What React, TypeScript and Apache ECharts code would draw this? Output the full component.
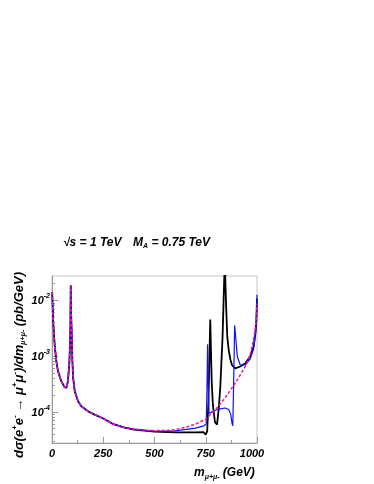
import React, { useEffect, useRef } from "react";
import * as echarts from "echarts";

// Shared low-mass part (all curves coincide), GeV and pb/GeV
const lowMass = [1, 5, 13, 21, 29, 45, 62, 70, 78, 85, 88, 89.8, 91.2, 93, 95.5, 99.5, 103, 111, 127, 143, 176, 208, 250, 300, 350];
const lowXsec = [1.4e-2, 4.8e-3, 1.58e-3, 8.1e-4, 5.4e-4, 3.55e-4, 2.75e-4, 2.7e-4, 3.55e-4, 8.1e-4, 1.78e-3, 3.55e-3, 1.86e-2, 6.3e-3, 3.16e-3, 8.1e-4, 4.1e-4, 2.35e-4, 1.55e-4, 1.26e-4, 1.02e-4, 8.9e-5, 7.6e-5, 6.0e-5, 5.25e-5];

// Standard Model (magenta dashed)
const smHighMass = [400, 450, 500, 550, 600, 650, 700, 750, 800, 850, 900, 943, 967, 983, 992, 996, 1000];
const smHighXsec = [4.9e-5, 4.7e-5, 4.6e-5, 4.6e-5, 4.8e-5, 5.25e-5, 6.0e-5, 7.4e-5, 1.12e-4, 1.9e-4, 3.55e-4, 6.5e-4, 1.07e-3, 1.95e-3, 3.16e-3, 4.5e-3, 8.7e-3];

// Black curve
const blackHighMass = [400, 500, 600, 700, 740, 750, 757, 763, 768, 772, 775, 779, 785, 795, 805, 813, 821, 832, 839, 843, 846, 849, 855, 862, 870, 878, 894, 918, 943, 967, 983, 992, 997, 1000];
const blackHighXsec = [4.8e-5, 4.4e-5, 4.27e-5, 4.27e-5, 4.3e-5, 3.9e-5, 4.5e-5, 1.5e-4, 1.0e-3, 4.5e-3, 1.5e-3, 3.5e-4, 1.3e-4, 6.5e-5, 5.9e-5, 1.1e-4, 2.8e-4, 2.2e-3, 1.74e-2, 5.0e-2, 2.0e-2, 8.7e-3, 2.2e-3, 1.29e-3, 8.7e-4, 6.9e-4, 6.0e-4, 6.5e-4, 7.4e-4, 9.8e-4, 1.48e-3, 2.5e-3, 4.4e-3, 1.07e-2];

// Blue curve
const blueHighMass = [400, 500, 600, 700, 740, 752, 756, 759, 762, 766, 772, 780, 813, 845, 862, 872, 878, 882, 886, 891, 896, 904, 918, 943, 967, 983, 992, 997, 1000];
const blueHighXsec = [4.9e-5, 4.47e-5, 4.57e-5, 5.1e-5, 5.6e-5, 6.0e-5, 2.5e-4, 1.62e-3, 3.2e-4, 9.5e-5, 9.5e-5, 1.0e-4, 1.12e-4, 1.17e-4, 1.1e-4, 8.9e-5, 6.3e-5, 5.6e-5, 3.2e-4, 3.55e-3, 2.2e-3, 9.8e-4, 6.9e-4, 6.9e-4, 8.9e-4, 1.32e-3, 2.4e-3, 4.0e-3, 1.26e-2];

// Axes
const xTicks = [0, 250, 500, 750, 1000];
const yMajorTicks = [1e-4, 1e-3, 1e-2];
const yMinorTicks = [3e-5, 4e-5, 5e-5, 6e-5, 7e-5, 8e-5, 9e-5, 2e-4, 3e-4, 4e-4, 5e-4, 6e-4, 7e-4, 8e-4, 9e-4, 2e-3, 3e-3, 4e-3, 5e-3, 6e-3, 7e-3, 8e-3, 9e-3, 2e-2];
const yMin = 2.76e-5;
const yMax = 2.72e-2;

const FONT = "'Liberation Sans', Arial, Helvetica, sans-serif";

function pairs(xs: number[], ys: number[]) {
  return xs.map((x, i) => [x, ys[i]]);
}

const base = { fontFamily: FONT, fontWeight: "bold" as const, fontStyle: "italic" as const, color: "#000" };

export default function App() {
  const ref = useRef<HTMLDivElement>(null);
  useEffect(() => {
    if (!ref.current) return;
    const chart = echarts.init(ref.current, null, { renderer: "svg" });
    const sm = pairs([...lowMass, ...smHighMass], [...lowXsec, ...smHighXsec]);
    const black = pairs([...lowMass, ...blackHighMass], [...lowXsec, ...blackHighXsec]);
    const blue = pairs([...lowMass, ...blueHighMass], [...lowXsec, ...blueHighXsec]);
    const axisGrey = "#9a9a9a";
    chart.setOption({
      animation: false,
      grid: {
        left: 52, top: 276, width: 205, height: 167,
        show: true, borderColor: "#c4c4c4", borderWidth: 1, backgroundColor: "transparent",
      },
      xAxis: {
        type: "value", min: 0, max: 1000, interval: 250,
        axisLine: { show: true, lineStyle: { color: axisGrey } },
        axisTick: { show: true, inside: true, length: 6, lineStyle: { color: axisGrey } },
        minorTick: { show: true, splitNumber: 2, length: 3, lineStyle: { color: axisGrey } },
        splitLine: { show: false },
        axisLabel: {
          margin: 4,
          customValues: xTicks,
          ...base, fontSize: 11,
          formatter: (v: number) => (v === 1000 ? "{r|1000}" : "{n|" + v + "}"),
          rich: {
            n: { ...base, fontSize: 11 },
            r: { ...base, fontSize: 11, padding: [0, 10, 0, 0] },
          },
        },
      },
      yAxis: [
        {
          type: "log", min: yMin, max: yMax, logBase: 10,
          axisLine: { show: true, lineStyle: { color: axisGrey } },
          axisTick: { show: true, inside: true, length: 6, customValues: yMajorTicks, lineStyle: { color: axisGrey } },
          splitLine: { show: false },
          axisLabel: {
            margin: 2,
            customValues: yMajorTicks,
            formatter: (v: number) => "{b|10}{s|" + Math.round(Math.log10(v)) + "}",
            rich: {
              b: { ...base, fontSize: 11 },
              s: { ...base, fontSize: 7, padding: [0, 0, 9, 0] },
            },
          },
        },
        {
          type: "log", min: yMin, max: yMax, logBase: 10, position: "left",
          axisLine: { show: false },
          axisTick: { show: true, inside: true, length: 3, customValues: yMinorTicks, lineStyle: { color: axisGrey } },
          axisLabel: { show: false },
          splitLine: { show: false },
        },
      ],
      graphic: [
        {
          type: "text", left: 63, top: 236,
          style: {
            text: "{n|√s = 1 TeV}",
            rich: { n: { ...base, fontSize: 12 } },
          },
        },
        {
          type: "text", left: 133, top: 236,
          style: {
            text: "{n|M}{sub|A}{n| = 0.75 TeV}",
            rich: {
              n: { ...base, fontSize: 12 },
              sub: { ...base, fontSize: 7, padding: [7, 0, 0, 0] },
            },
          },
        },
        {
          type: "text", x: 18, y: 365, rotation: Math.PI / 2,
          style: {
            text: "{n|dσ(e}{p|+}{n|e}{p|-}{n| → μ}{p|+}{n|μ}{p|-}{n|)/dm}{d|μ+μ-}{n| (pb/GeV)}",
            align: "center", verticalAlign: "middle",
            rich: {
              n: { ...base, fontSize: 13 },
              p: { ...base, fontSize: 8, padding: [0, 0, 8, 0] },
              d: { ...base, fontSize: 7, padding: [8, 0, 0, 0] },
            },
          },
        },
        {
          type: "text", left: 194, top: 466,
          style: {
            text: "{n|m}{d|μ+μ-}{n| (GeV)}",
            rich: {
              n: { ...base, fontSize: 12 },
              d: { ...base, fontSize: 7, padding: [8, 0, 0, 0] },
            },
          },
        },
      ],
      series: [
        {
          type: "line", data: black, showSymbol: false, symbol: "none", clip: true,
          lineStyle: { color: "#000000", width: 1.8 }, z: 2,
        },
        {
          type: "line", data: blue, showSymbol: false, symbol: "none", clip: true,
          lineStyle: { color: "#1010ff", width: 1.2 }, z: 3,
        },
        {
          type: "line", data: sm, showSymbol: false, symbol: "none", clip: true,
          lineStyle: { color: "#ff1090", width: 1.5, type: [3, 2] }, z: 4,
        },
      ],
    });
    return () => chart.dispose();
  }, []);
  return <div ref={ref} style={{ position: "fixed", left: 0, top: 0, width: 374, height: 484 }} />;
}
